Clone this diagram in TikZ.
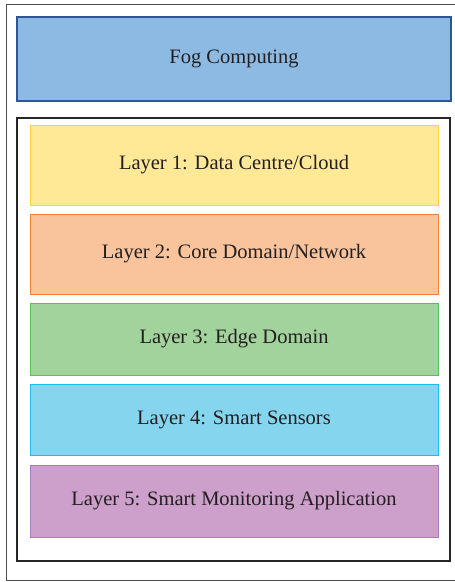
\documentclass[tikz,border=0pt]{standalone}
\usepackage{fontspec}
\setmainfont{Liberation Serif}
\usetikzlibrary{positioning}

\definecolor{fogfill}{HTML}{8DBAE3}
\definecolor{fogline}{HTML}{2F5597}
\definecolor{cloudfill}{HTML}{FFE896}
\definecolor{cloudline}{HTML}{FFD43B}
\definecolor{corefill}{HTML}{F9C39C}
\definecolor{coreline}{HTML}{F58233}
\definecolor{edgefill}{HTML}{A3D39C}
\definecolor{edgeline}{HTML}{5CBF5C}
\definecolor{sensorfill}{HTML}{85D5EE}
\definecolor{sensorline}{HTML}{1EBDEB}
\definecolor{appfill}{HTML}{CD9FCB}
\definecolor{appline}{HTML}{A77BC0}
\definecolor{labeltext}{HTML}{231F20}

\tikzset{
  layerbox/.style={draw, line width=0.9pt, minimum width=408pt, text=labeltext,
    font=\fontsize{20.5}{24}\selectfont, inner sep=0pt, outer sep=0pt},
  frame/.style={draw=black!85, line width=1.1pt}
}

\begin{document}
\begin{tikzpicture}[x=1pt, y=-1pt]

    \useasboundingbox (0,0) rectangle (455,582);

    % frames
    \draw[draw=black!70, line width=1pt] (6,4) rectangle (462,580);
    \draw[frame] (17,118) rectangle (450,561);

    % top box
    \node[layerbox, fill=fogfill, draw=fogline, line width=1.2pt,
      minimum width=434pt, minimum height=84pt] (fog) at (234,59) {Fog Computing};

    % layers
    \node[layerbox, fill=cloudfill, draw=cloudline, minimum height=80pt]
      (cloud) at (234,165) {Layer 1: Data Centre/Cloud};
    \node[layerbox, fill=corefill, draw=coreline, minimum height=80pt,
      below=9pt of cloud] (core) {Layer 2: Core Domain/Network};
    \node[layerbox, fill=edgefill, draw=edgeline, minimum height=72pt,
      below=9pt of core] (edge) {Layer 3: Edge Domain};
    \node[layerbox, fill=sensorfill, draw=sensorline, minimum height=71pt,
      below=9pt of edge] (sensor) {Layer 4: Smart Sensors};
    \node[layerbox, fill=appfill, draw=appline, minimum height=72pt,
      below=10pt of sensor] (app) {Layer 5: Smart Monitoring Application};

  \end{tikzpicture}
\end{document}
